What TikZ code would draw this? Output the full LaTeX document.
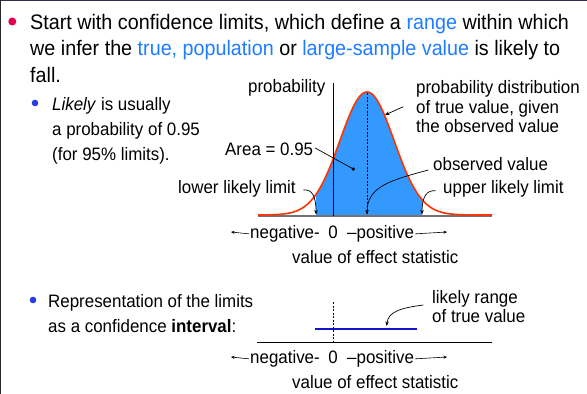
\documentclass[tikz,border=0pt]{standalone}
\usepackage{fontspec}
\setmainfont{Liberation Sans}[FakeStretch=0.94]
\usetikzlibrary{arrows.meta}
\definecolor{hlblue}{RGB}{30,125,255}
\definecolor{pinkdot}{RGB}{232,0,80}
\definecolor{subdot}{RGB}{40,60,230}
\definecolor{areablue}{RGB}{51,153,255}
\definecolor{curvered}{RGB}{255,51,0}
\definecolor{intblue}{RGB}{20,20,200}
\definecolor{topframe}{RGB}{50,45,80}
\begin{document}
\begin{tikzpicture}[x=1pt,y=-1pt,
  big/.style={anchor=base west, inner sep=0pt, font=\fontsize{21}{26}\selectfont},
  small/.style={anchor=base west, inner sep=0pt, font=\fontsize{18}{22}\selectfont},
  lead/.style={draw=black, line width=0.7pt, -{Stealth[length=4.5pt,width=3.5pt]}},
  plain/.style={draw=black, line width=0.7pt},
  axisarrow/.style={draw=black, line width=0.6pt, -{Stealth[length=3.5pt,width=3pt]}},
]
\useasboundingbox (0,0) rectangle (587,394);
\fill[white] (0,0) rectangle (587,394);
\draw[topframe, line width=2.5pt] (0,0) -- (587,0);
\draw[black!85, line width=1.5pt] (0,0) -- (0,394);

% main bullet
\fill[pinkdot] (12.3,21.5) circle (4);
\node[big] (l1) at (30,29) {Start with confidence limits, which define a \textcolor{hlblue}{range} within which};
\node[big] (l2) at (30,55) {we infer the \textcolor{hlblue}{true, population} or \textcolor{hlblue}{large-sample value} is likely to};
\node[big] (l3) at (30,82) {fall.};

% sub bullet 1
\fill[subdot] (35,103) circle (3.3);
\node[small] (s1) at (52,110) {\textit{Likely} is usually};
\node[small] (s2) at (52,135) {a probability of 0.95};
\node[small] (s3) at (52,160) {(for 95\% limits).};

% distribution
\fill[areablue] (316,216) -- plot[domain=316:422, samples=80] (\x, {216-124*exp(-0.5*((\x-367)/27)^2)}) -- (422,216) -- cycle;
\draw[black!55, line width=1.6pt] (258,216) -- (492,216);
\draw[curvered, line width=1.6pt] plot[domain=258:492, samples=160] (\x, {215-123*exp(-0.5*((\x-367)/27)^2)});
\draw[black, line width=1pt] (333,83) -- (333,216);
\draw[black, line width=0.6pt, dash pattern=on 2pt off 1.5pt] (367,93) -- (367,214);

\node[small] (prob) at (248,92) {probability};
\node[small] (d1) at (416,93) {probability distribution};
\node[small] (d2) at (416,113) {of true value, given};
\node[small] (d3) at (416,132) {the observed value};
\node[small] (area) at (225,155) {Area = 0.95};
\node[small] (lowlab) at (178,193) {lower likely limit};
\node[small] (obslab) at (433,170) {observed value};
\node[small] (upplab) at (443,193) {upper likely limit};

\coordinate (distpt) at (385,115);
\coordinate (areadot) at (353.3,169);
\coordinate (lowtip) at (316,214.5);
\coordinate (obstip) at (367,214.5);
\coordinate (upptip) at (422,214.5);

\draw[lead] (403.3,106.7) -- (distpt);
\draw[plain] ([xshift=1.5pt,yshift=1pt]area.east) -- (areadot);
\fill[black] (areadot) circle (1.8);
\draw[lead] (303.3,190) .. controls (312,189) and (316,196) .. (lowtip);
\draw[lead] (428.3,170) .. controls (392,180) and (367,186) .. (obstip);
\draw[lead] (435.7,190.7) .. controls (427,190) and (422,196) .. (upptip);

% axis labels top
\node[small, anchor=base east] (neg1) at (320,238) {negative-};
\node[small, anchor=base] (zero1) at (333,238) {0};
\node[small] (pos1) at (347,238) {–positive};
\coordinate (la1) at (231,232);
\coordinate (ra1) at (447,232);
\draw[axisarrow] ([xshift=-1pt,yshift=-0.5pt]neg1.west) -- (la1);
\draw[axisarrow] ([xshift=1pt,yshift=-0.5pt]pos1.east) -- (ra1);
\node[small] (val1) at (292,263) {value of effect statistic};

% lower section
\fill[subdot] (33,300) circle (3.3);
\node[small] (r1) at (48,307) {Representation of the limits};
\node[small] (r2) at (48,332) {as a confidence \textbf{interval}:};

\coordinate (ax2l) at (257,342);
\coordinate (ax2r) at (492,342);
\draw[black, line width=0.8pt] (ax2l) -- (ax2r);
\draw[black, line width=0.6pt, dash pattern=on 2pt off 1.5pt] (333,302) -- (333,342);
\coordinate (intl) at (315,329);
\coordinate (intr) at (417,329);
\draw[intblue, line width=2.6pt] (intl) -- (intr);

\node[small] (lr1) at (432,303) {likely range};
\node[small] (lr2) at (432,322) {of true value};
\coordinate (rngtip) at (386.7,326);
\draw[lead] (423.3,305) .. controls (400,308) and (388,312) .. (rngtip);

\node[small, anchor=base east] (neg2) at (320,363) {negative-};
\node[small, anchor=base] (zero2) at (333,363) {0};
\node[small] (pos2) at (347,363) {–positive};
\coordinate (la2) at (231,357);
\coordinate (ra2) at (447,357);
\draw[axisarrow] ([xshift=-1pt,yshift=-0.5pt]neg2.west) -- (la2);
\draw[axisarrow] ([xshift=1pt,yshift=-0.5pt]pos2.east) -- (ra2);
\node[small] (val2) at (292,388) {value of effect statistic};
\end{tikzpicture}
\end{document}
